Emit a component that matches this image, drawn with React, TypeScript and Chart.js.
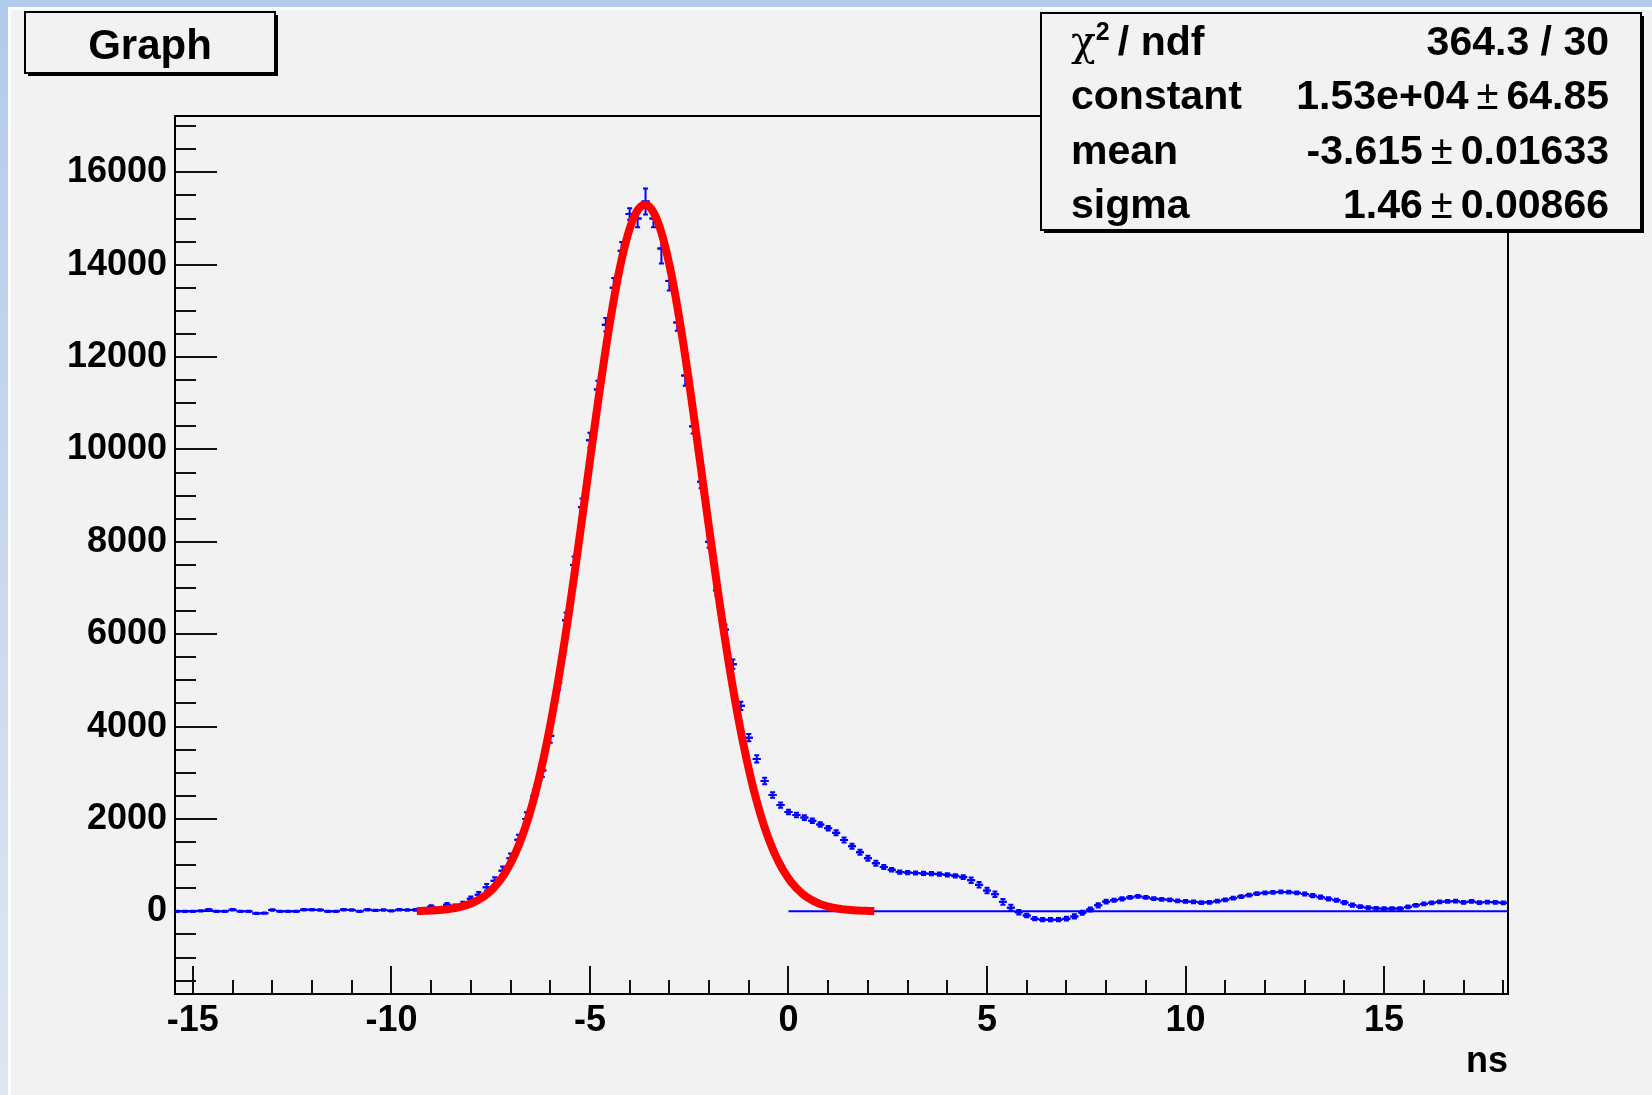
import { useEffect, useRef } from 'react';
import { Chart, registerables } from 'chart.js';

Chart.register(...registerables);

const CANVAS_W = 1652;
const CANVAS_H = 1095;

// Plot frame (pad pixels)
const FRAME_LEFT = 175;
const FRAME_TOP = 116;
const FRAME_RIGHT = 1508;
const FRAME_BOTTOM = 994;

// Axis ranges
const X_MIN = -15.45;
const X_MAX = 18.12;
const Y_MIN = -1790;
const Y_MAX = 17220;
const X_TICK_LABELS = [-15, -10, -5, 0, 5, 10, 15];
const Y_TICK_LABELS = [0, 2000, 4000, 6000, 8000, 10000, 12000, 14000, 16000];
const X_MINOR_STEP = 1;
const Y_MINOR_STEP = 500;
const X_TITLE = 'ns';
const GRAPH_TITLE = 'Graph';

// Measured time spectrum: counts per 0.2 ns step starting at -15.4 ns
const TIME_START = -15.4;
const TIME_STEP = 0.2;
const COUNTS = [
  0, 0, 0, 10, 35, 0, 0, 35, 0, 0,
  -45, -40, 30, 0, 0, 0, 35, 35, 30, 0,
  0, 35, 30, 0, 35, 20, 30, 10, 35, 30,
  30, 40, 100, 60, 140, 110, 160, 270, 360, 520,
  660, 880, 1150, 1550, 2000, 2500, 3050, 3800, 4950, 6300,
  7500, 8750, 10200, 11300, 12700, 13500, 14300, 15100, 15000, 15370,
  15000, 14350, 13650, 12750, 11600, 10500, 9300, 8000, 6950, 6100,
  5350, 4450, 3760, 3300, 2820, 2520, 2300, 2150, 2085, 2030,
  1960, 1880, 1800, 1700, 1545, 1410, 1280, 1150, 1040, 960,
  900, 850, 840, 830, 820, 815, 805, 790, 770, 740,
  675, 575, 450, 370, 205, 80, -20, -90, -160, -180,
  -180, -180, -160, -110, -30, 40, 130, 210, 240, 270,
  300, 325, 300, 275, 260, 250, 225, 215, 205, 190,
  195, 220, 250, 285, 320, 350, 385, 400, 410, 420,
  415, 400, 375, 340, 305, 270, 240, 190, 135, 100,
  80, 65, 58, 60, 60, 95, 130, 160, 185, 205,
  215, 220, 195, 215, 190, 200, 195, 185, 190,
];
const COUNT_ERRORS = [
  15, 15, 15, 15, 15, 15, 15, 15, 15, 15,
  15, 15, 15, 15, 15, 15, 15, 15, 15, 15,
  15, 15, 15, 15, 15, 15, 15, 15, 15, 15,
  20, 20, 30, 30, 40, 40, 50, 50, 60, 70,
  80, 90, 100, 110, 145, 130, 140, 150, 160, 170,
  180, 190, 160, 190, 145, 210, 190, 125, 190, 280,
  190, 325, 210, 180, 220, 155, 140, 130, 120, 110,
  100, 90, 80, 80, 70, 60, 55, 50, 50, 50,
  50, 50, 50, 55, 55, 55, 55, 55, 55, 45,
  40, 35, 35, 35, 35, 35, 35, 35, 35, 40,
  60, 60, 60, 60, 60, 60, 50, 40, 35, 35,
  35, 35, 40, 45, 45, 45, 45, 40, 35, 35,
  30, 30, 30, 30, 30, 30, 30, 30, 30, 30,
  30, 30, 30, 30, 30, 30, 30, 30, 30, 30,
  30, 30, 30, 35, 35, 35, 35, 35, 35, 30,
  30, 30, 30, 30, 30, 30, 30, 30, 30, 30,
  30, 30, 30, 30, 30, 30, 30, 30, 30,
];

// Reference line at zero counts, drawn from t = 0 onwards
const BASELINE_FROM = 0;
const BASELINE_TO = 18.2;
const BASELINE_LEVEL = 0;

// Gaussian fit result, as printed in the statistics box
const CHI2_TEXT = '364.3 / 30';
const FIT_PARAM_NAMES = ['constant', 'mean', 'sigma'];
const FIT_PARAM_VALUES = ['1.53e+04', '-3.615', '1.46'];
const FIT_PARAM_ERRORS = ['64.85', '0.01633', '0.00866'];
const FIT_FROM = -9.36;
const FIT_TO = 2.16;
const FIT_SAMPLES = 300;

const PANEL = '#f2f2f2';
const DATA_BLUE = '#0000ff';
const FONT = "'Liberation Sans', Arial, Helvetica, sans-serif";

function gaussianFitPoints() {
  const c = parseFloat(FIT_PARAM_VALUES[0]);
  const m = parseFloat(FIT_PARAM_VALUES[1]);
  const s = parseFloat(FIT_PARAM_VALUES[2]);
  const pts: { x: number; y: number }[] = [];
  for (let i = 0; i <= FIT_SAMPLES; i++) {
    const x = FIT_FROM + ((FIT_TO - FIT_FROM) * i) / FIT_SAMPLES;
    const z = (x - m) / s;
    pts.push({ x, y: c * Math.exp(-0.5 * z * z) });
  }
  return pts;
}

function timeAt(i: number) {
  return Math.round((TIME_START + i * TIME_STEP) * 100) / 100;
}

function spectrumPoints() {
  return COUNTS.map((y, i) => ({ x: timeAt(i), y }));
}

const backgroundPlugin = {
  id: 'padBackground',
  beforeDraw(chart: any) {
    const ctx = chart.ctx as CanvasRenderingContext2D;
    ctx.save();
    const g = ctx.createLinearGradient(0, 0, 0, CANVAS_H);
    g.addColorStop(0, '#b2cbeb');
    g.addColorStop(1, '#dfe6f1');
    ctx.fillStyle = g;
    ctx.fillRect(0, 0, CANVAS_W, CANVAS_H);
    ctx.fillStyle = '#ffffff';
    ctx.fillRect(8, 7, CANVAS_W - 8, CANVAS_H - 7);
    ctx.fillStyle = PANEL;
    ctx.fillRect(11, 10, CANVAS_W - 11, CANVAS_H - 10);
    ctx.restore();
  },
};

const framePlugin = {
  id: 'rootFrame',
  beforeDatasetsDraw(chart: any) {
    const ctx = chart.ctx as CanvasRenderingContext2D;
    const { left, top, right, bottom } = chart.chartArea;
    const xs = chart.scales.x;
    const ys = chart.scales.y;
    ctx.save();
    ctx.strokeStyle = '#111';
    ctx.lineWidth = 2;
    ctx.beginPath();
    // y-axis ticks pointing into the frame
    const yFirst = Math.ceil(Y_MIN / Y_MINOR_STEP) * Y_MINOR_STEP;
    for (let v = yFirst; v <= Y_MAX; v += Y_MINOR_STEP) {
      const py = Math.round(ys.getPixelForValue(v));
      const major = v % (Y_MINOR_STEP * 4) === 0;
      ctx.moveTo(left, py);
      ctx.lineTo(left + (major ? 42 : 21), py);
    }
    // x-axis ticks pointing up from the bottom
    const xFirst = Math.ceil(X_MIN / X_MINOR_STEP) * X_MINOR_STEP;
    for (let v = xFirst; v <= X_MAX; v += X_MINOR_STEP) {
      const px = Math.round(xs.getPixelForValue(v));
      const major = v % 5 === 0;
      ctx.moveTo(px, bottom);
      ctx.lineTo(px, bottom - (major ? 28 : 14));
    }
    ctx.stroke();
    ctx.strokeStyle = '#000';
    ctx.lineWidth = 2;
    ctx.strokeRect(left, top, right - left, bottom - top);
    ctx.restore();
  },
};

// Error bars of the spectrum: horizontal bar over the time bin, vertical bar
// over the count uncertainty with end caps. Drawn right after that dataset.
const errorBarPlugin = {
  id: 'errorBars',
  afterDatasetDraw(chart: any, args: any) {
    if (args.index !== 2) return;
    const ctx = chart.ctx as CanvasRenderingContext2D;
    const { left, top, right, bottom } = chart.chartArea;
    const xs = chart.scales.x;
    const ys = chart.scales.y;
    ctx.save();
    ctx.beginPath();
    ctx.rect(left, top, right - left, bottom - top);
    ctx.clip();
    ctx.strokeStyle = DATA_BLUE;
    ctx.lineWidth = 2;
    ctx.lineCap = 'butt';
    ctx.beginPath();
    const cap = 2.5;
    COUNTS.forEach((v, i) => {
      const t = timeAt(i);
      const e = COUNT_ERRORS[i];
      const px = xs.getPixelForValue(t);
      const xa = xs.getPixelForValue(t - TIME_STEP / 2);
      const xb = xs.getPixelForValue(t + TIME_STEP / 2);
      const py = ys.getPixelForValue(v);
      const y1 = ys.getPixelForValue(v + e);
      const y2 = ys.getPixelForValue(v - e);
      ctx.moveTo(xa, py);
      ctx.lineTo(xb, py);
      ctx.moveTo(px, y1);
      ctx.lineTo(px, y2);
      ctx.moveTo(px - cap, y1);
      ctx.lineTo(px + cap, y1);
      ctx.moveTo(px - cap, y2);
      ctx.lineTo(px + cap, y2);
    });
    ctx.stroke();
    ctx.restore();
  },
};

function drawBox(ctx: CanvasRenderingContext2D, x: number, y: number, w: number, h: number) {
  ctx.fillStyle = '#000';
  ctx.fillRect(x + 3, y + 3, w, h);
  ctx.fillStyle = PANEL;
  ctx.fillRect(x, y, w, h);
  ctx.strokeStyle = '#000';
  ctx.lineWidth = 2;
  ctx.strokeRect(x, y, w, h);
}

const labelsPlugin = {
  id: 'titleAndStats',
  afterDraw(chart: any) {
    const ctx = chart.ctx as CanvasRenderingContext2D;
    ctx.save();
    // title box
    drawBox(ctx, 25, 12, 250, 61);
    ctx.fillStyle = '#000';
    ctx.font = `bold 42px ${FONT}`;
    ctx.textAlign = 'center';
    ctx.textBaseline = 'alphabetic';
    ctx.fillText(GRAPH_TITLE, 150, 59);

    // statistics box
    const bx = 1041;
    const by = 13;
    const bw = 600;
    const bh = 217;
    drawBox(ctx, bx, by, bw, bh);
    ctx.fillStyle = '#000';
    const leftX = 1071;
    const rightX = 1609;
    const rowH = bh / 4;
    const base = (i: number) => by + rowH * i + rowH / 2 + 15;
    const bold = `bold 41px ${FONT}`;

    // chi-square row
    ctx.textAlign = 'left';
    ctx.font = `41px 'DejaVu Serif', 'Liberation Serif', serif`;
    ctx.fillText('χ', leftX, base(0));
    const chiW = ctx.measureText('χ').width;
    ctx.font = `bold 25px ${FONT}`;
    ctx.fillText('2', leftX + chiW, base(0) - 15);
    ctx.font = bold;
    ctx.fillText('/ ndf', leftX + chiW + 22, base(0));
    ctx.textAlign = 'right';
    ctx.fillText(CHI2_TEXT, rightX, base(0));

    FIT_PARAM_NAMES.forEach((name, k) => {
      const y = base(k + 1);
      ctx.font = bold;
      ctx.textAlign = 'left';
      ctx.fillText(name, leftX, y);
      ctx.textAlign = 'right';
      ctx.fillText(FIT_PARAM_ERRORS[k], rightX, y);
      const errW = ctx.measureText(FIT_PARAM_ERRORS[k]).width;
      ctx.font = `40px ${FONT}`;
      const pmRight = rightX - errW - 8;
      ctx.fillText('±', pmRight, y);
      const pmW = ctx.measureText('±').width;
      ctx.font = bold;
      ctx.fillText(FIT_PARAM_VALUES[k], pmRight - pmW - 8, y);
    });
    ctx.restore();
  },
};

export default function App() {
  const canvasRef = useRef<HTMLCanvasElement | null>(null);

  useEffect(() => {
    const canvas = canvasRef.current;
    if (!canvas) return;
    const axisFont = { family: FONT, size: 36, weight: 'bold' as const };
    const chart = new Chart(canvas, {
      type: 'line',
      data: {
        datasets: [
          {
            label: 'gaus',
            data: gaussianFitPoints(),
            borderColor: '#ff0000',
            borderWidth: 8,
            pointRadius: 0,
            tension: 0,
            order: 0,
          },
          {
            label: 'zero',
            data: [
              { x: BASELINE_FROM, y: BASELINE_LEVEL },
              { x: BASELINE_TO, y: BASELINE_LEVEL },
            ],
            borderColor: DATA_BLUE,
            borderWidth: 2,
            pointRadius: 0,
            order: 1,
          },
          {
            label: 'Graph',
            data: spectrumPoints(),
            showLine: false,
            pointStyle: 'line',
            pointRadius: 4,
            pointHoverRadius: 4,
            pointBorderColor: DATA_BLUE,
            pointBackgroundColor: DATA_BLUE,
            pointBorderWidth: 2,
            borderColor: DATA_BLUE,
            backgroundColor: DATA_BLUE,
            order: 2,
          },
        ],
      },
      options: {
        responsive: false,
        animation: false,
        devicePixelRatio: 1,
        layout: {
          padding: { left: 0, top: FRAME_TOP, right: CANVAS_W - FRAME_RIGHT, bottom: 0 },
        },
        plugins: {
          legend: { display: false },
          tooltip: { enabled: false },
          title: { display: false },
        },
        scales: {
          x: {
            type: 'linear',
            min: X_MIN,
            max: X_MAX,
            grid: { display: false, drawTicks: false },
            border: { display: false },
            ticks: {
              autoSkip: false,
              maxRotation: 0,
              padding: 5,
              color: '#000',
              font: axisFont,
              callback: (v: any) => String(v),
            },
            afterBuildTicks: (s: any) => {
              s.ticks = X_TICK_LABELS.map((value) => ({ value }));
            },
            afterFit: (s: any) => {
              s.height = CANVAS_H - FRAME_BOTTOM;
            },
            title: {
              display: true,
              text: X_TITLE,
              align: 'end',
              color: '#000',
              font: axisFont,
              padding: { top: 0, bottom: 11 },
            },
          },
          y: {
            type: 'linear',
            min: Y_MIN,
            max: Y_MAX,
            grid: { display: false, drawTicks: false },
            border: { display: false },
            ticks: {
              autoSkip: false,
              padding: 8,
              color: '#000',
              font: axisFont,
              callback: (v: any) => String(v),
            },
            afterBuildTicks: (s: any) => {
              s.ticks = Y_TICK_LABELS.map((value) => ({ value }));
            },
            afterFit: (s: any) => {
              s.width = FRAME_LEFT;
            },
          },
        },
      },
      plugins: [backgroundPlugin, framePlugin, errorBarPlugin, labelsPlugin],
    });
    return () => chart.destroy();
  }, []);

  return (
    <div style={{ position: 'fixed', left: 0, top: 0, width: CANVAS_W, height: CANVAS_H }}>
      <canvas ref={canvasRef} width={CANVAS_W} height={CANVAS_H} style={{ display: 'block' }} />
    </div>
  );
}
